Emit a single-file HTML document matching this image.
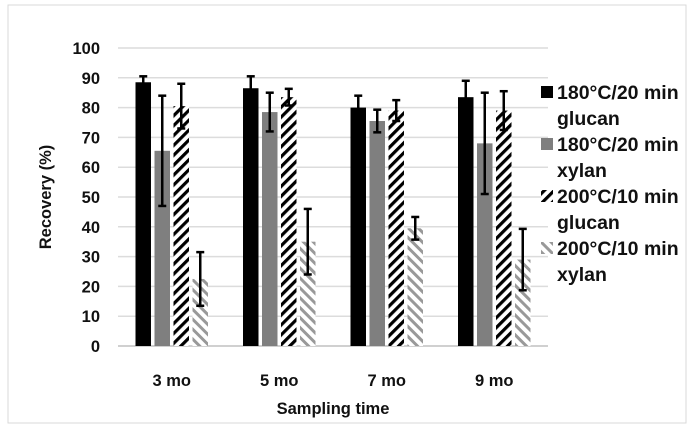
<!DOCTYPE html>
<html><head><meta charset="utf-8"><style>
body{margin:0;background:#fff;width:699px;height:434px;overflow:hidden}
svg text{font-family:"Liberation Sans",sans-serif;font-weight:bold;fill:#111}
</style></head><body>
<svg id="chart" width="699" height="434" xmlns="http://www.w3.org/2000/svg">
<defs>
<pattern id="hatchB" patternUnits="userSpaceOnUse" width="7" height="7" patternTransform="rotate(45)">
<rect width="7" height="7" fill="#fff"/><rect width="3.2" height="7" fill="#000"/></pattern>
<pattern id="hatchG" patternUnits="userSpaceOnUse" width="7" height="7" patternTransform="rotate(-45)">
<rect width="7" height="7" fill="#fff"/><rect width="3" height="7" fill="#999"/></pattern>
</defs>
<rect x="8" y="5" width="678" height="418" fill="#fff" stroke="#d9d9d9"/>
<g id="grid"></g><g id="bars"></g><g id="axes"></g><g id="legend"></g>
<text x="0" y="0" transform="translate(51,197) rotate(-90)" text-anchor="middle" font-size="16.5">Recovery (%)</text>
<text x="333" y="414" text-anchor="middle" font-size="16.5">Sampling time</text>
</svg>
<script>
const categories=["3 mo","5 mo","7 mo","9 mo"];
const seriesNames=["180°C/20 min glucan","180°C/20 min xylan","200°C/10 min glucan","200°C/10 min xylan"];
const s1=[88.5,86.5,80,83.5];
const s2=[65.5,78.5,75.5,68];
const s3=[80.5,83.5,79,79];
const s4=[22.5,35,39.5,29];
const e1=[2,4,4,5.5];
const e2=[18.5,6.5,3.8,17];
const e3=[7.5,2.8,3.5,6.5];
const e4=[9,11,3.8,10.3];
const yTicks=[0,10,20,30,40,50,60,70,80,90,100];
const NS="http://www.w3.org/2000/svg";
const x0=118,x1=548,yb=346,yt=48;
const y=v=>yb-(v/100)*(yb-yt);
const gw=(x1-x0)/categories.length;
function mk(t,a,p){const e=document.createElementNS(NS,t);for(const k in a)e.setAttribute(k,a[k]);p.appendChild(e);return e;}
const grid=document.getElementById('grid'),bars=document.getElementById('bars'),axes=document.getElementById('axes'),leg=document.getElementById('legend');
yTicks.forEach(v=>{
 const l=mk('line',{x1:x0,x2:x1,y1:y(v),y2:y(v),stroke:v===0?'#d0d0d0':'#dcdcdc','stroke-width':v===0?2:1.5},grid);
 
 
 const t=mk('text',{x:100,y:y(v)+6,'text-anchor':'end','font-size':16.5},axes);t.textContent=v;
 
 
});
const series=[s1,s2,s3,s4],errs=[e1,e2,e3,e4],fills=['#000','#7f7f7f','url(#hatchB)','url(#hatchG)'];
const bw=15.5,gap=3.5;
categories.forEach((c,i)=>{
 const cx=x0+gw*(i+0.5);
 const start=cx-(4*bw+3*gap)/2;
 series.forEach((s,j)=>{
  const bx=start+j*(bw+gap);
  const r=mk('rect',{x:bx,y:y(s[i]),width:bw,height:yb-y(s[i]),fill:fills[j]},bars);
  
  
  const mx=bx+bw/2,hi=y(s[i]+errs[j][i]),lo=y(s[i]-errs[j][i]);
  const g=mk('g',{stroke:'#000','stroke-width':2.5},bars);
  
  
  mk('line',{x1:mx,x2:mx,y1:hi,y2:lo},g);
  mk('line',{x1:mx-4,x2:mx+4,y1:hi,y2:hi},g);
  mk('line',{x1:mx-4,x2:mx+4,y1:lo,y2:lo},g);
 });
 const t=mk('text',{x:cx,y:386,'text-anchor':'middle','font-size':16.5},axes);t.textContent=c;
 
 
});
seriesNames.forEach((n,j)=>{
 const by=92+j*52;
 const g=mk('g',{},leg);
 
 
 mk('rect',{x:541,y:by-6,width:12,height:12,fill:fills[j]},g);
 const parts=n.split(' ');
 const t1=mk('text',{x:557,y:by+7,'font-size':19.5,'font-weight':'normal'},g);t1.textContent=parts[0]+' '+parts[1];
 const t2=mk('text',{x:557,y:by+33,'font-size':19.5,'font-weight':'normal'},g);t2.textContent=parts[2];
});
</script>
</body></html>
